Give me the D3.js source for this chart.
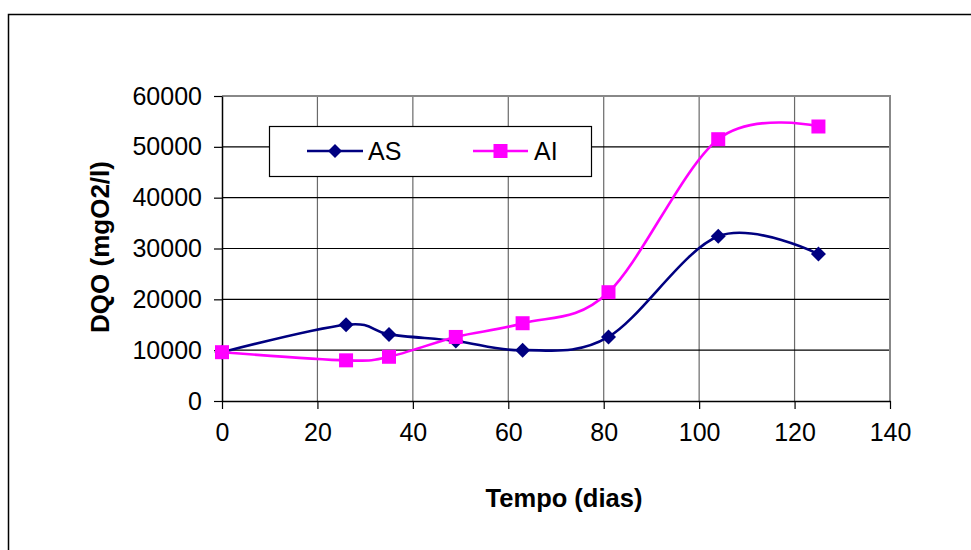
<!DOCTYPE html>
<html><head><meta charset="utf-8">
<script src="https://cdn.jsdelivr.net/npm/d3@7"></script>
<style>body{margin:0;background:#fff}svg{display:block}text{font-family:"Liberation Sans",Arial,sans-serif}</style>
</head><body><svg id="c" width="971" height="550"></svg>
<script>
const days = [0, 26, 35, 49, 63, 81, 104, 125];
const asValues = [9600, 15000, 13100, 11800, 10000, 12600, 32400, 28900];
const aiValues = [9600, 8000, 8700, 12600, 15300, 21400, 51500, 54000];
const seriesNames = ["AS", "AI"];
const xTicks = [0, 20, 40, 60, 80, 100, 120, 140];
const yTicks = [0, 10000, 20000, 30000, 40000, 50000, 60000];

const svg = d3.select("#c");
const L = 222, R = 890, T = 96, B = 401;
const x = d3.scaleLinear().domain([0, 140]).range([L, R]);
const y = d3.scaleLinear().domain([0, 60000]).range([B, T]);

// outer frame
svg.append("path").attr("d", "M8.5,550V14.5H971").attr("fill", "none").attr("stroke", "#000").attr("stroke-width", 1.5);

// gridlines
svg.append("g").selectAll("line").data(xTicks.slice(1, -1)).join("line")
  .attr("x1", d => x(d)).attr("x2", d => x(d)).attr("y1", T).attr("y2", B)
  .attr("stroke", "#6a6a6a").attr("stroke-width", 1.2);
svg.append("g").selectAll("line").data(yTicks.slice(1, -1)).join("line")
  .attr("x1", L).attr("x2", R).attr("y1", d => y(d)).attr("y2", d => y(d))
  .attr("stroke", "#000").attr("stroke-width", 1.2);
// plot border top/right
svg.append("path").attr("d", `M${L},${T}H${R}V${B}`).attr("fill", "none").attr("stroke", "#888").attr("stroke-width", 2);

// axes
const xAxis = d3.axisBottom(x).tickValues(xTicks).tickSize(8).tickPadding(14).tickSizeOuter(0);
const gx = svg.append("g").attr("transform", `translate(0,${B})`).call(xAxis);
const yAxis = d3.axisLeft(y).tickValues(yTicks).tickSize(8).tickPadding(12).tickSizeOuter(0).tickFormat(d3.format("d"));
const gy = svg.append("g").attr("transform", `translate(${L},0)`).call(yAxis);
[gx, gy].forEach(g => {
  g.select(".domain").attr("stroke", "#000").attr("stroke-width", 1.5);
  g.selectAll(".tick line").attr("stroke", "#000").attr("stroke-width", 1.2);
  g.selectAll(".tick text").attr("font-size", 25).attr("fill", "#000")
    .attr("font-family", '"Liberation Sans",Arial,sans-serif');
});
gx.selectAll(".tick text").attr("dy", "0.72em");

// axis titles
svg.append("text").attr("x", 564).attr("y", 507).attr("text-anchor", "middle")
  .attr("font-size", 25.5).attr("font-weight", "bold").text("Tempo (dias)");
svg.append("text").attr("transform", "translate(109,247) rotate(-90)").attr("text-anchor", "middle")
  .attr("font-size", 26).attr("font-weight", "bold").text("DQO (mgO2/l)");

const line = d3.line().x(d => x(d[0])).y(d => y(d[1])).curve(d3.curveCardinal.tension(0));
const colors = ["#000080", "#FF00FF"];
const data = [asValues, aiValues].map(v => days.map((d, i) => [d, v[i]]));
const diamond = s => `M0,${-s}L${s},0L0,${s}L${-s},0Z`;

data.forEach((pts, k) => {
  svg.append("path").datum(pts).attr("d", line).attr("fill", "none")
    .attr("stroke", colors[k]).attr("stroke-width", 2.6);
  const g = svg.append("g");
  if (k === 0) {
    g.selectAll("path").data(pts).join("path").attr("d", diamond(7.5))
      .attr("transform", d => `translate(${x(d[0])},${y(d[1])})`).attr("fill", colors[k]);
  } else {
    g.selectAll("rect").data(pts).join("rect")
      .attr("x", d => x(d[0]) - 7).attr("y", d => y(d[1]) - 7).attr("width", 14).attr("height", 14).attr("fill", colors[k]);
  }
});

// legend
const lg = svg.append("g");
lg.append("rect").attr("x", 269.5).attr("y", 126.5).attr("width", 322).attr("height", 50)
  .attr("fill", "#fff").attr("stroke", "#000").attr("stroke-width", 1.2);
const legItems = [{x1: 307, x2: 363, tx: 368}, {x1: 473, x2: 528, tx: 534}];
legItems.forEach((it, k) => {
  const ly = 151;
  lg.append("line").attr("x1", it.x1).attr("x2", it.x2).attr("y1", ly).attr("y2", ly)
    .attr("stroke", colors[k]).attr("stroke-width", 2.6);
  const cx = (it.x1 + it.x2) / 2;
  if (k === 0) lg.append("path").attr("d", diamond(7)).attr("transform", `translate(${cx},${ly})`).attr("fill", colors[k]);
  else lg.append("rect").attr("x", cx - 7).attr("y", ly - 7).attr("width", 14).attr("height", 14).attr("fill", colors[k]);
  lg.append("text").attr("x", it.tx).attr("y", ly + 9).attr("font-size", 25).attr("fill", "#000").text(seriesNames[k]);
});
</script></body></html>
